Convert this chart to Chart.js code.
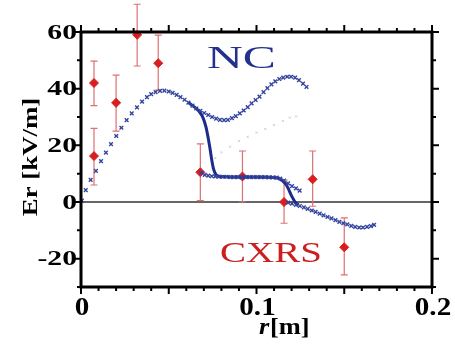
<!DOCTYPE html>
<html>
<head>
<meta charset="utf-8">
<script src="https://cdn.jsdelivr.net/npm/chart.js@4/dist/chart.umd.min.js"></script>
<style>
  html, body { margin: 0; padding: 0; background: #fff; }
  canvas { display: block; }
</style>
</head>
<body>
<canvas id="er-chart" width="455" height="345"></canvas>
<script>
// CXRS measurements (diamonds with error bars)
var cxrsR  = [0.0074, 0.0074, 0.020, 0.032, 0.044, 0.068, 0.092, 0.1157, 0.132, 0.150];
var cxrsE  = [42, 16.2, 35, 59, 49, 10.5, 9, 0, 8, -16];
var cxrsLo = [34, 6, 25, 48, 39.5, 0.5, 0, -7.5, -1.5, -25.7];
var cxrsHi = [49.7, 26, 44.8, 69.8, 58.9, 20.5, 18, 7.7, 18, -5.6];

// NC calculation, ion-root branch
var ncUpR = [0.0005, 0.0027, 0.0055, 0.0085, 0.0114, 0.0142, 0.0171, 0.0201, 0.023, 0.026,
  0.0289, 0.0319, 0.0348, 0.0376, 0.040, 0.0425, 0.045, 0.0475, 0.050, 0.0522,
  0.0545, 0.0567, 0.059, 0.0612, 0.0635, 0.0657, 0.068, 0.0702, 0.0725, 0.0747,
  0.077, 0.0792, 0.0815, 0.0837, 0.086, 0.0882, 0.0905, 0.0927, 0.095, 0.0972,
  0.0995, 0.1017, 0.104, 0.1062, 0.1085, 0.1107, 0.113, 0.1152, 0.1175, 0.1197,
  0.122, 0.1242, 0.1265, 0.1285];
var ncUpE = [0.5, 4.2, 7.8, 11, 14.4, 17.4, 20.4, 23.3, 26.2, 28.9,
  31.3, 33.4, 35.4, 37, 38.1, 38.8, 39.2, 39.3, 39.0, 38.5,
  37.8, 37.0, 36.1, 35.1, 34.0, 33.0, 32.2, 31.4, 30.7, 30.0,
  29.4, 29.0, 28.9, 29.0, 29.6, 30.3, 31.3, 32.3, 33.5, 34.8,
  36.0, 37.2, 38.8, 40.2, 41.5, 42.6, 43.4, 43.9, 44.2, 44.2,
  43.9, 43.0, 41.8, 40.6];

// NC electron-root branch
var ncLowR = [0.0685, 0.0705, 0.0725, 0.0745, 0.0765, 0.0785, 0.0807, 0.0829, 0.0851, 0.0873,
  0.0895, 0.0917, 0.0939, 0.0961, 0.0983, 0.1005, 0.1027, 0.1049, 0.1071, 0.1093,
  0.1115, 0.1135, 0.1157, 0.118, 0.1202, 0.1225, 0.1246];
var ncLowE = [10.3, 9.6, 9.3, 9.1, 9.0, 8.9, 8.9, 8.9, 8.8, 8.8,
  8.8, 8.8, 8.8, 8.8, 8.8, 8.8, 8.8, 8.8, 8.7, 8.7,
  8.6, 8.3, 7.6, 6.6, 5.6, 4.8, 4.0];

// NC negative tail
var ncTailR = [0.118, 0.1202, 0.1225, 0.1247, 0.127, 0.1292, 0.1315, 0.1337, 0.136, 0.1382,
  0.1405, 0.1427, 0.145, 0.1472, 0.1495, 0.1517, 0.154, 0.1562, 0.1585, 0.1607,
  0.163, 0.1652, 0.167];
var ncTailE = [-0.2, -0.6, -1.0, -1.4, -1.9, -2.4, -3.0, -3.5, -4.1, -4.7,
  -5.3, -5.8, -6.4, -7.0, -7.5, -7.9, -8.4, -8.8, -9.0, -9.0,
  -8.8, -8.5, -8.1];

// unstable root (faint dots)
var ncMidR = [0.0765, 0.080, 0.085, 0.090, 0.095, 0.100, 0.105, 0.110, 0.115, 0.119, 0.1225];
var ncMidE = [15.5, 17.5, 19.5, 21.5, 23, 24.5, 25.8, 27.2, 28.6, 29.8, 30.2];

// solid transition line
var lineR = [0.0612, 0.0645, 0.0675, 0.0695, 0.0712, 0.0725, 0.0736, 0.0746, 0.0756, 0.0768,
  0.0785, 0.082, 0.090, 0.100, 0.108, 0.1125, 0.115, 0.117, 0.1185, 0.1197,
  0.1212, 0.1225, 0.124];
var lineE = [35.1, 33.6, 31.8, 29.8, 26.5, 22.5, 18.5, 14.5, 11.5, 9.8,
  9.1, 8.9, 8.8, 8.8, 8.7, 8.4, 7.4, 6.0, 4.2, 2.5,
  0.8, -0.4, -1.0];

var xTicks = [0, 0.1, 0.2];
var xTickLabels = ['0', '0.1', '0.2'];
var yTicks = [60, 40, 20, 0, -20];
var yTickLabels = ['60', '40', '20', '0', '-20'];

function toPoints(xs, ys) {
  var pts = [];
  for (var i = 0; i < xs.length; i++) pts.push({ x: xs[i], y: ys[i] });
  return pts;
}

// text squeezed/stretched horizontally to match the reference
function drawText(ctx, text, x, y, font, sx, align) {
  ctx.save();
  ctx.font = font;
  var w = ctx.measureText(text).width * sx;
  var left = x;
  if (align === 'right') left = x - w;
  if (align === 'center') left = x - w / 2;
  ctx.translate(left, y);
  ctx.scale(sx, 1);
  ctx.textAlign = 'left';
  ctx.fillText(text, 0, 0);
  ctx.restore();
}

var framePlugin = {
  id: 'frame',
  beforeDatasetsDraw: function(chart) {
    var ctx = chart.ctx;
    var xs = chart.scales.x, ys = chart.scales.y;
    var a = chart.chartArea;

    // zero line
    var y0 = ys.getPixelForValue(0);
    ctx.save();
    ctx.strokeStyle = '#333';
    ctx.lineWidth = 1.5;
    ctx.beginPath();
    ctx.moveTo(a.left, y0);
    ctx.lineTo(a.right, y0);
    ctx.stroke();

    // CXRS error bars
    ctx.strokeStyle = '#dd7070';
    ctx.lineWidth = 1.2;
    for (var i = 0; i < cxrsR.length; i++) {
      var px = xs.getPixelForValue(cxrsR[i]);
      var top = ys.getPixelForValue(cxrsHi[i]);
      var bot = ys.getPixelForValue(cxrsLo[i]);
      ctx.beginPath();
      ctx.moveTo(px, top); ctx.lineTo(px, bot);
      ctx.moveTo(px - 3.5, top); ctx.lineTo(px + 3.5, top);
      ctx.moveTo(px - 3.5, bot); ctx.lineTo(px + 3.5, bot);
      ctx.stroke();
    }
    ctx.restore();
  },
  afterDraw: function(chart) {
    var ctx = chart.ctx;
    var xs = chart.scales.x, ys = chart.scales.y;
    var a = chart.chartArea;
    var v, p, len;

    ctx.save();
    ctx.strokeStyle = '#000';
    ctx.lineWidth = 2;
    ctx.beginPath();
    // x ticks, bottom and top, pointing outward
    for (v = 0; v <= 20; v++) {
      p = xs.getPixelForValue(v / 100);
      len = (v % 5 === 0) ? 7 : 4;
      ctx.moveTo(p, a.bottom); ctx.lineTo(p, a.bottom + len);
      ctx.moveTo(p, a.top); ctx.lineTo(p, a.top - len);
    }
    // y ticks, left and right
    for (v = -30; v <= 60; v += 10) {
      p = ys.getPixelForValue(v);
      len = (v % 20 === 0) ? 7 : 4;
      ctx.moveTo(a.left, p); ctx.lineTo(a.left - len, p);
      ctx.moveTo(a.right, p); ctx.lineTo(a.right + len, p);
    }
    ctx.stroke();

    // frame
    ctx.lineWidth = 3;
    ctx.strokeRect(a.left, a.top, a.right - a.left, a.bottom - a.top);

    // tick labels
    ctx.fillStyle = '#000';
    ctx.textBaseline = 'middle';
    for (var i = 0; i < yTicks.length; i++) {
      drawText(ctx, yTickLabels[i], a.left - 4, ys.getPixelForValue(yTicks[i]) + 1,
        'bold 22px "Liberation Serif"', 1.35, 'right');
    }
    ctx.textBaseline = 'alphabetic';
    for (i = 0; i < xTicks.length; i++) {
      drawText(ctx, xTickLabels[i], xs.getPixelForValue(xTicks[i]) + 1, 315,
        'bold 26px "Liberation Serif"', 1.12, 'center');
    }

    // axis titles
    drawText(ctx, 'r', 259, 334, 'italic bold 23px "Liberation Serif"', 1.15, 'left');
    drawText(ctx, '[m]', 270, 334, 'bold 23px "Liberation Serif"', 1.15, 'left');

    ctx.save();
    ctx.translate(37, 157);
    ctx.rotate(-Math.PI / 2);
    ctx.textBaseline = 'alphabetic';
    drawText(ctx, 'Er [kV/m]', 0, 0, 'bold 22px "Liberation Serif"', 1.22, 'center');
    ctx.restore();

    // series labels
    ctx.fillStyle = '#23308c';
    drawText(ctx, 'NC', 207, 68, '31px "Liberation Serif"', 1.6, 'left');
    ctx.fillStyle = '#cc1f1f';
    drawText(ctx, 'CXRS', 220, 262, '30px "Liberation Serif"', 1.3, 'left');
    ctx.restore();
  }
};

var ncColor = '#33449e';

new Chart(document.getElementById('er-chart'), {
  type: 'scatter',
  data: {
    datasets: [
      {
        label: 'NC unstable',
        data: toPoints(ncMidR, ncMidE),
        pointStyle: 'crossRot',
        pointRadius: 1.5,
        borderColor: 'rgba(150,160,205,0.45)',
        borderWidth: 1
      },
      {
        label: 'NC ion root',
        data: toPoints(ncUpR, ncUpE),
        pointStyle: 'crossRot',
        pointRadius: 2.6,
        borderColor: ncColor,
        borderWidth: 1.4
      },
      {
        label: 'NC electron root',
        data: toPoints(ncLowR, ncLowE),
        pointStyle: 'crossRot',
        pointRadius: 2.6,
        borderColor: ncColor,
        borderWidth: 1.4
      },
      {
        label: 'NC tail',
        data: toPoints(ncTailR, ncTailE),
        pointStyle: 'crossRot',
        pointRadius: 2.6,
        borderColor: ncColor,
        borderWidth: 1.4
      },
      {
        label: 'NC transition',
        data: toPoints(lineR, lineE),
        showLine: true,
        cubicInterpolationMode: 'monotone',
        borderColor: '#1c2a8a',
        borderWidth: 3,
        pointRadius: 0
      },
      {
        label: 'CXRS',
        data: toPoints(cxrsR, cxrsE),
        pointStyle: 'rectRot',
        pointRadius: 4.5,
        backgroundColor: '#d81e1e',
        borderColor: '#d81e1e',
        borderWidth: 1,
        clip: false
      }
    ]
  },
  options: {
    responsive: false,
    animation: false,
    devicePixelRatio: 1,
    layout: { padding: { left: 81, top: 32, right: 23, bottom: 58 } },
    plugins: { legend: { display: false }, tooltip: { enabled: false } },
    scales: {
      x: { type: 'linear', min: 0, max: 0.2, display: false },
      y: { type: 'linear', min: -30, max: 60, display: false }
    }
  },
  plugins: [framePlugin]
});
</script>
</body>
</html>
